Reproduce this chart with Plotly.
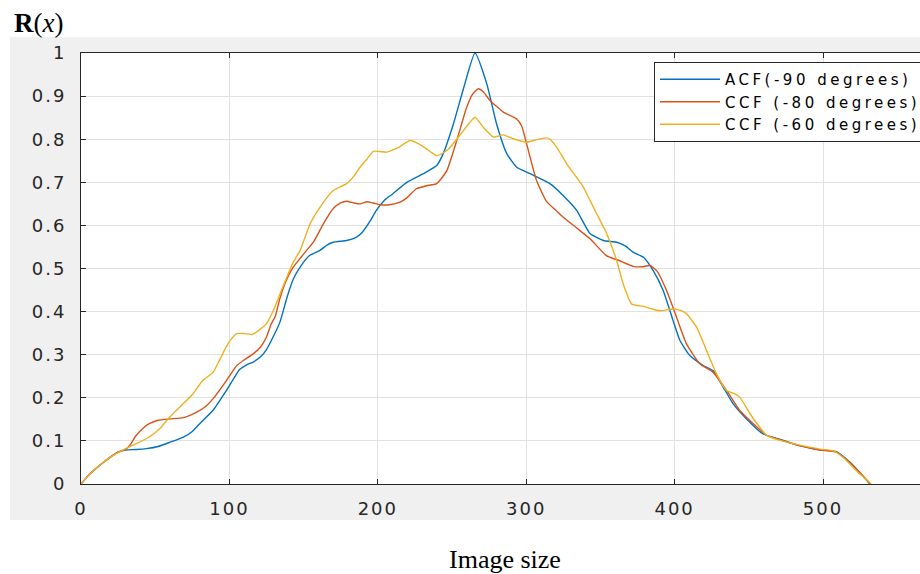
import plotly.graph_objects as go

# ---- data ----
acf_x = [0, 5, 10, 15, 20, 25, 30, 37, 44, 52, 60, 69, 75, 80, 89, 98, 103, 107, 112, 116,
         121, 125, 130, 134, 139, 143, 148, 154, 161, 166, 170, 179, 184, 189, 195, 199, 205,
         210, 219.5, 230.7, 239.7, 244, 251, 257.7, 265.5, 273.4, 280, 287, 293.6, 302.6, 316,
         325, 334, 343, 352, 361, 367, 372, 379, 385.6, 392.3, 399, 403.6, 410.3, 419.3, 426,
         432.7, 439.5, 448.5, 459.7, 468.7, 484.4, 497.8, 509, 518, 524.7, 531.5]
acf_y = [0, 0.02, 0.036, 0.05, 0.063, 0.074, 0.079, 0.080, 0.082, 0.087, 0.097, 0.109, 0.122,
         0.140, 0.171, 0.217, 0.245, 0.266, 0.277, 0.283, 0.295, 0.312, 0.345, 0.375, 0.435,
         0.475, 0.505, 0.530, 0.542, 0.555, 0.561, 0.565, 0.570, 0.582, 0.611, 0.635, 0.660,
         0.673, 0.700, 0.720, 0.739, 0.766, 0.836, 0.917, 1.0, 0.929, 0.836, 0.766, 0.735,
         0.720, 0.697, 0.669, 0.635, 0.581, 0.565, 0.561, 0.552, 0.538, 0.526, 0.495, 0.449,
         0.379, 0.333, 0.298, 0.275, 0.263, 0.225, 0.186, 0.151, 0.116, 0.106, 0.089, 0.079,
         0.075, 0.051, 0.027, 0]

ccf80_x = [0, 5, 10, 15, 20, 25, 30, 33, 37, 42, 46, 52, 60, 69, 78, 84, 89, 98, 105, 110,
           116, 121, 125, 128, 131, 134, 138, 143, 148, 152, 156.6, 163.4, 170, 175, 179, 184,
           188, 192.6, 197, 201.5, 208, 215, 220, 226, 233, 239.7, 246.5, 253.2, 259.9, 264,
           267.7, 271, 275.6, 284.6, 293.6, 297, 300.3, 307, 313.8, 320, 325, 334, 343, 354,
           363, 372, 378, 383.4, 387.9, 394.6, 401.3, 408, 417, 426, 435, 444, 453, 462, 469,
           484, 498, 509, 518, 525, 532]
ccf80_y = [0, 0.02, 0.036, 0.05, 0.063, 0.074, 0.080, 0.09, 0.112, 0.13, 0.140, 0.148, 0.151,
           0.154, 0.167, 0.18, 0.198, 0.240, 0.275, 0.288, 0.302, 0.318, 0.341, 0.37, 0.39,
           0.43, 0.47, 0.503, 0.525, 0.542, 0.561, 0.604, 0.639, 0.652, 0.656, 0.652, 0.650,
           0.655, 0.652, 0.648, 0.648, 0.654, 0.665, 0.685, 0.692, 0.697, 0.727, 0.797, 0.874,
           0.905, 0.917, 0.91, 0.890, 0.863, 0.847, 0.83, 0.789, 0.704, 0.655, 0.635, 0.619,
           0.594, 0.569, 0.530, 0.518, 0.505, 0.504, 0.507, 0.495, 0.449, 0.387, 0.325, 0.279,
           0.259, 0.217, 0.170, 0.140, 0.113, 0.105, 0.089, 0.079, 0.074, 0.050, 0.026, 0]

ccf60_x = [0, 5, 10, 15, 20, 25, 30, 38, 46, 53, 59.7, 67, 75.4, 82, 89, 93, 97.5, 101, 105,
           110, 115.5, 120, 125, 129.7, 134, 138.7, 143, 147.7, 154.4, 161, 170, 179, 184, 188,
           193, 197, 206, 209.4, 215, 221.7, 229.6, 235, 239.7, 244, 248.7, 257.7, 265.5, 271,
           278, 284.6, 291.3, 300.3, 307, 313.8, 316, 320.6, 327.3, 338.5, 343, 347.5, 354.2,
           361, 365.4, 371, 379, 385, 390, 399, 404, 408, 414.8, 421.5, 428.3, 435, 440, 444,
           450.8, 456, 462, 475.5, 498, 507, 513.5, 522.5, 532.6]
ccf60_y = [0, 0.02, 0.036, 0.05, 0.063, 0.073, 0.082, 0.095, 0.109, 0.128, 0.155, 0.18, 0.209,
           0.240, 0.259, 0.285, 0.316, 0.335, 0.349, 0.349, 0.347, 0.357, 0.372, 0.403, 0.44,
           0.480, 0.515, 0.542, 0.604, 0.642, 0.681, 0.697, 0.715, 0.735, 0.755, 0.772, 0.770,
           0.774, 0.783, 0.797, 0.785, 0.772, 0.762, 0.768, 0.781, 0.820, 0.851, 0.828, 0.805,
           0.810, 0.801, 0.793, 0.799, 0.803, 0.800, 0.781, 0.743, 0.689, 0.658, 0.627, 0.581,
           0.518, 0.464, 0.418, 0.412, 0.406, 0.402, 0.406, 0.403, 0.395, 0.364, 0.310, 0.255,
           0.217, 0.210, 0.201, 0.163, 0.138, 0.113, 0.097, 0.081, 0.077, 0.062, 0.031, 0]

series_names = ["ACF(-90 degrees)", "CCF (-80 degrees)", "CCF (-60 degrees)"]
series_colors = ["#0072BD", "#D95319", "#EDB120"]

x_ticks = [0, 100, 200, 300, 400, 500]
x_tick_text = ["0", "100", "200", "300", "400", "500"]
y_ticks = [0, 0.1, 0.2, 0.3, 0.4, 0.5, 0.6, 0.7, 0.8, 0.9, 1]
y_tick_text = ["0", "0.1", "0.2", "0.3", "0.4", "0.5", "0.6", "0.7", "0.8", "0.9", "1"]


def wide(s, sp):
    # the reference's sans-serif text is drawn horizontally stretched
    return '<span style="letter-spacing:%spx">%s</span>' % (sp, s)


# ---- figure ----
fig = go.Figure()
for xs, ys, name, col in zip([acf_x, ccf80_x, ccf60_x], [acf_y, ccf80_y, ccf60_y],
                             series_names, series_colors):
    fig.add_trace(go.Scatter(x=xs, y=ys, name=wide(name, 3.5), mode="lines",
                             line=dict(color=col, width=1.4, shape="spline", smoothing=0.5)))

W, H = 920, 574
L, R, T, B = 81, 0, 53, 90
pw, ph = W - L - R, H - T - B


def px2paper_x(px):
    return (px - L) / pw


def py2paper_y(py):
    return (H - B - py) / ph


tick_font = dict(family="DejaVu Sans", size=18, color="#262626")

fig.update_layout(
    width=W, height=H,
    margin=dict(l=L, r=R, t=T, b=B, autoexpand=False),
    paper_bgcolor="white",
    plot_bgcolor="white",
    showlegend=True,
    legend=dict(x=px2paper_x(654), y=py2paper_y(62), xanchor="left", yanchor="top",
                bgcolor="white", bordercolor="#262626", borderwidth=1,
                font=dict(family="DejaVu Sans", size=15, color="#000000"),
                itemwidth=60, tracegroupgap=0),
    shapes=[
        dict(type="rect", xref="paper", yref="paper", layer="below",
             x0=px2paper_x(10), x1=1.02, y0=py2paper_y(520), y1=py2paper_y(37),
             fillcolor="#f0f0f0", line=dict(width=0)),
        dict(type="rect", xref="paper", yref="paper", layer="below",
             x0=0, x1=1.02, y0=0, y1=1, fillcolor="white", line=dict(width=0)),
    ],
    annotations=[
        dict(text="<b>R</b>(<i>x</i>)", xref="paper", yref="paper",
             x=px2paper_x(12), y=py2paper_y(23), xanchor="left", yanchor="middle",
             showarrow=False, font=dict(family="Liberation Serif", size=27, color="black")),
        dict(text="Image size", xref="paper", yref="paper",
             x=px2paper_x(505), y=py2paper_y(559), xanchor="center", yanchor="middle",
             showarrow=False, font=dict(family="Liberation Serif", size=26, color="black")),
    ],
)

fig.update_xaxes(range=[0, pw / 1.484], tickvals=x_ticks,
                 ticktext=[wide(t, 2) for t in x_tick_text], ticks="inside", ticklen=5,
                 tickcolor="#262626", showline=True, linecolor="#262626", linewidth=1,
                 mirror="allticks", showgrid=True, gridcolor="#e1e1e1", gridwidth=1,
                 zeroline=False, tickfont=tick_font, ticklabelstandoff=8)
fig.update_yaxes(range=[0, 1], tickvals=y_ticks,
                 ticktext=[wide(t, 2) for t in y_tick_text], ticks="inside",
                 ticklen=5, tickcolor="#262626", showline=True, linecolor="#262626",
                 linewidth=1, mirror=False, showgrid=True, gridcolor="#e1e1e1", gridwidth=1,
                 zeroline=False, tickfont=tick_font, ticklabelstandoff=10)

fig.write_html("out.html", config={"displayModeBar": False},
               post_script="document.body.style.margin='0';document.body.style.overflow='hidden';")
